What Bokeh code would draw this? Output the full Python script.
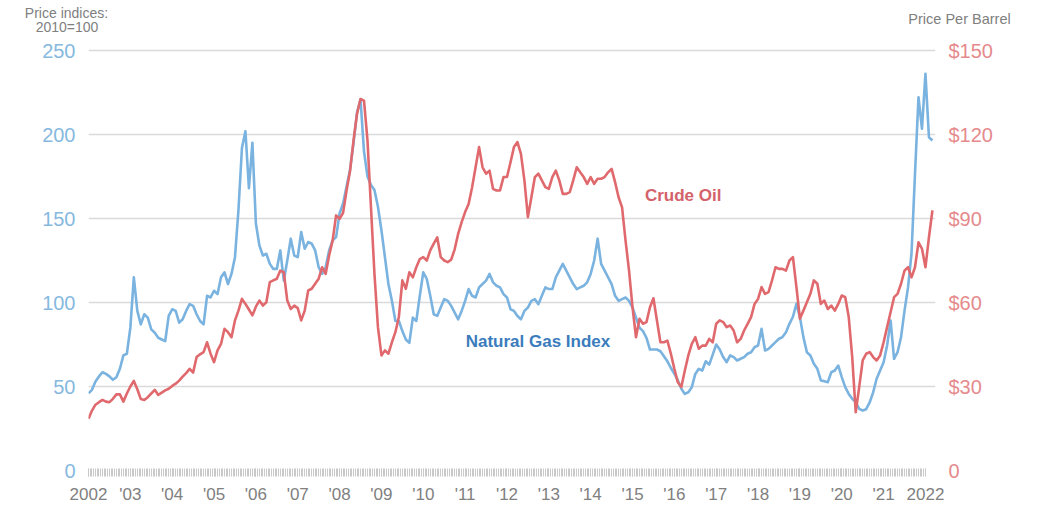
import numpy as np
import pandas as pd
from bokeh.plotting import figure
from bokeh.models import Range1d, LinearAxis, FixedTicker, Label
from bokeh.embed import file_html
from bokeh.resources import INLINE

# ---------------- data (monthly, Jan 2002 onwards) ----------------
gas_index = [
    46, 48, 53, 56, 58.5, 57.5, 56, 54, 55.5, 60.5, 68.5, 69.5,          # 2002
    85, 115, 95, 87, 93, 91, 84, 82, 79, 78, 77, 92,                      # 2003
    96, 95, 88, 90, 95, 99, 98, 93, 89, 87, 104, 103,                     # 2004
    107, 105, 115, 118, 111, 117, 127, 155, 192, 202, 168, 195,           # 2005
    147, 134, 128, 129, 123, 120, 120, 131, 113, 125, 138, 128,           # 2006
    127, 142, 132, 136, 135, 131, 121, 117, 121, 131, 137, 139,           # 2007
    153, 159, 169, 179, 195, 213, 221, 190, 175, 170, 167, 157,           # 2008
    143, 127, 111, 101, 89, 89, 83, 78, 76, 91, 89, 104,                  # 2009
    118, 114, 104, 93, 92, 97, 102, 101, 98, 94, 90, 95,                  # 2010
    101, 108, 104, 103, 109, 111, 113, 117, 112, 110, 109, 105,           # 2011
    103, 96, 95, 92, 90, 95, 97, 101, 102, 99, 104, 109,                  # 2012
    108, 108, 115, 119, 123, 119, 115, 111, 108, 109, 110, 112,           # 2013
    117, 125, 138, 123, 119, 115, 111, 104, 101, 102, 103, 101,           # 2014
    97, 91, 85, 83, 79, 72, 72, 72, 71, 68, 65, 61,                       # 2015
    57.5, 53.6, 48.6, 45.6, 46.6, 49.6, 57.5, 60.5, 59.5, 65, 63, 69,     # 2016
    75, 72, 67.5, 64.5, 68.5, 67.5, 65.5, 66.5, 67.5, 69.5, 70.4, 73.4,   # 2017
    74.4, 84.3, 71.4, 72.4, 74.4, 76.4, 78.4, 79.4, 82.3, 87.3, 91.5, 99.2,  # 2018
    91.3, 79.4, 70.4, 68.5, 63.5, 60.5, 53.6, 53.2, 52.6, 58.5, 59.5, 62.5,  # 2019
    55.6, 49.6, 45.6, 42.7, 40.7, 36.7, 35.7, 36.5, 40.5, 46.5, 54.6, 59.5,  # 2020
    64.5, 74.4, 89.3, 66.5, 70.4, 79.4, 95.2, 109, 129, 176.6, 222.2, 203.4, # 2021
    236.1, 198.4, 196.4,                                                  # 2022
]

oil_price = [
    18.5, 21.4, 23.5, 24.4, 25.2, 24.6, 24.4, 25.6, 27.2, 27.2, 24.6, 27.5,   # 2002
    30, 32, 29, 25.5, 25.2, 26.2, 27.5, 28.8, 27, 27.8, 28.6, 29.2,           # 2003
    30.2, 31, 32.1, 33.5, 34.8, 36.3, 35, 40.5, 41.5, 42.3, 45.8, 41.7,       # 2004
    38.7, 42.9, 45.2, 50.6, 49.4, 47.6, 53.6, 57.1, 61.3, 59.5, 57.5, 55.4,   # 2005
    58.5, 60.7, 58.9, 60.1, 67.3, 67.9, 68.5, 71.4, 70.8, 60.7, 57.7, 58.9,   # 2006
    58, 53.6, 57.1, 64.3, 64.9, 66.7, 68.5, 72.6, 70.2, 76.8, 82.1, 91.1,     # 2007
    89.9, 92, 100, 107, 117.9, 127.4, 132.7, 132.1, 117.9, 94, 70.2, 51.2,    # 2008
    41.1, 42.9, 41.7, 45.8, 49.4, 54.8, 67.9, 64.9, 70.8, 69, 72.6, 75.5,     # 2009
    76.2, 75, 78.6, 81, 83.3, 76.2, 75, 74.4, 75.3, 79, 84.5, 88.7,           # 2010
    92.3, 95.2, 101.2, 108.3, 115.5, 108.3, 106, 107.1, 100.6, 100, 100, 104.8,  # 2011
    104.8, 110, 115.5, 117.3, 113.1, 103.6, 90.5, 97.6, 104.8, 106, 103.6, 101.2,  # 2012
    100.6, 104.8, 107.1, 103.6, 98.8, 98.8, 99.4, 103.6, 108.3, 106.5, 104.8, 102.4,  # 2013
    104.8, 102.4, 104.2, 104.2, 104.8, 106.5, 107.7, 103, 97.6, 94, 82.1, 71.4,  # 2014
    58.3, 47.6, 54.2, 52.4, 53, 58.3, 61.5, 53.6, 45.8, 45.8, 46.4, 41.7,     # 2015
    36.3, 31.5, 29.8, 35.7, 41.1, 45.2, 47.6, 43.5, 44.6, 44.6, 47, 45.8,     # 2016
    52.4, 53.6, 53, 51.2, 51.8, 50, 45.8, 47, 50, 52.4, 54.8, 59.5,           # 2017
    61.3, 65.5, 63.1, 63.7, 67.9, 72.6, 72, 72, 71.4, 75, 76.2, 65.5,         # 2018
    54.2, 57.1, 60.1, 63.1, 67.9, 66.7, 59.5, 60.7, 57.7, 58.9, 57.1, 59.5,   # 2019
    62.5, 61.9, 54.8, 40.5, 20.8, 29.8, 39.3, 41.7, 42.3, 40.5, 39.3, 41.1,   # 2020
    45.8, 51.2, 56.5, 61.9, 63.1, 66.7, 71.4, 72.6, 69, 72.6, 81.5, 79.2,     # 2021
    72.6, 83.3, 92.9,                                                         # 2022
]

year_ticks = list(range(2002, 2023))
year_labels = ["2002"] + ["'%02d" % (y % 100) for y in range(2003, 2022)] + ["2022"]
gas_ticks = [0, 50, 100, 150, 200, 250]
grid_ticks = [50, 100, 150, 200, 250]
oil_ticks = [0, 30, 60, 90, 120, 150]
oil_labels = ["0", "$30", "$60", "$90", "$120", "$150"]

months = pd.date_range("2002-01-01", periods=len(gas_index), freq="MS")
x = np.asarray(months.year + (months.month - 1) / 12.0, dtype=float)

FONT = "Liberation Sans"
GAS_LINE = "#7ab3df"
OIL_LINE = "#e0696e"

p = figure(width=1029, height=508, output_backend="svg", toolbar_location=None,
           x_range=Range1d(2002, 2022.24), y_range=Range1d(0, 251.2),
           min_border_left=88, min_border_right=94, min_border_top=48,
           min_border_bottom=38, background_fill_color="white",
           border_fill_color="white")
p.outline_line_color = None
p.extra_y_ranges = {"oil": Range1d(0, 150.72)}

# grid
p.xgrid.visible = False
p.ygrid.ticker = FixedTicker(ticks=grid_ticks)
p.ygrid.grid_line_color = "#dadada"
p.ygrid.grid_line_width = 1.5

# bottom axis (ruler)
minor = [2002 + k / 24.0 for k in range(0, 20 * 24 + 1)]
xa = p.xaxis[0]
xa.ticker = FixedTicker(ticks=year_ticks, minor_ticks=minor)
xa.major_label_overrides = {t: l for t, l in zip(year_ticks, year_labels)}
xa.axis_line_color = None
xa.major_tick_line_color = "#c9c9c9"
xa.minor_tick_line_color = "#c9c9c9"
xa.major_tick_in = 2
xa.major_tick_out = 6
xa.minor_tick_in = 2
xa.minor_tick_out = 6
xa.major_label_standoff = 8
xa.major_label_text_font = FONT
xa.major_label_text_font_size = "17px"
xa.major_label_text_color = "#808080"

# left axis
ya = p.yaxis[0]
ya.ticker = FixedTicker(ticks=gas_ticks)
ya.axis_line_color = None
ya.major_tick_line_color = None
ya.minor_tick_line_color = None
ya.major_tick_in = 0
ya.major_tick_out = 0
ya.major_label_standoff = 13
ya.major_label_text_font = FONT
ya.major_label_text_font_size = "20px"
ya.major_label_text_color = "#86b9e0"

# right axis
ra = LinearAxis(y_range_name="oil", ticker=FixedTicker(ticks=oil_ticks),
                major_label_overrides={t: l for t, l in zip(oil_ticks, oil_labels)})
ra.axis_line_color = None
ra.major_tick_line_color = None
ra.minor_tick_line_color = None
ra.major_tick_in = 0
ra.major_tick_out = 0
ra.major_label_standoff = 13
ra.major_label_text_font = FONT
ra.major_label_text_font_size = "20px"
ra.major_label_text_color = "#e58a8c"
p.add_layout(ra, "right")

# lines
p.line(x, gas_index, line_color=GAS_LINE, line_width=2.6, line_join="round")
p.line(x, oil_price, line_color=OIL_LINE, line_width=2.6, line_join="round",
       y_range_name="oil")

# in-plot labels
def make_label(xv, yv, text, color, size, style="normal", **kw):
    return Label(x=xv, y=yv, text=text, text_align="center",
                 text_baseline="middle", text_color=color,
                 text_font=FONT, text_font_size=size,
                 text_font_style=style, **kw)

p.add_layout(make_label(2016.21, 163.7, "Crude Oil", "#d4626a", "17px", "bold"))
p.add_layout(make_label(2012.74, 76.8, "Natural Gas Index", "#3b7cbd", "17px", "bold"))

# header texts, placed in stacked top border panels (screen units, relative to each panel)
p.add_layout(make_label(-22, 36, "Price indices:", "#808080", "14px",
                        x_units="screen", y_units="screen"), "above")
p.add_layout(make_label(-21.5, 6, "2010=100", "#808080", "14px",
                        x_units="screen", y_units="screen"), "above")
p.add_layout(make_label(871, -2, "Price Per Barrel", "#808080", "14.5px",
                        x_units="screen", y_units="screen"), "above")

open("out.html", "w").write(file_html(p, INLINE))
